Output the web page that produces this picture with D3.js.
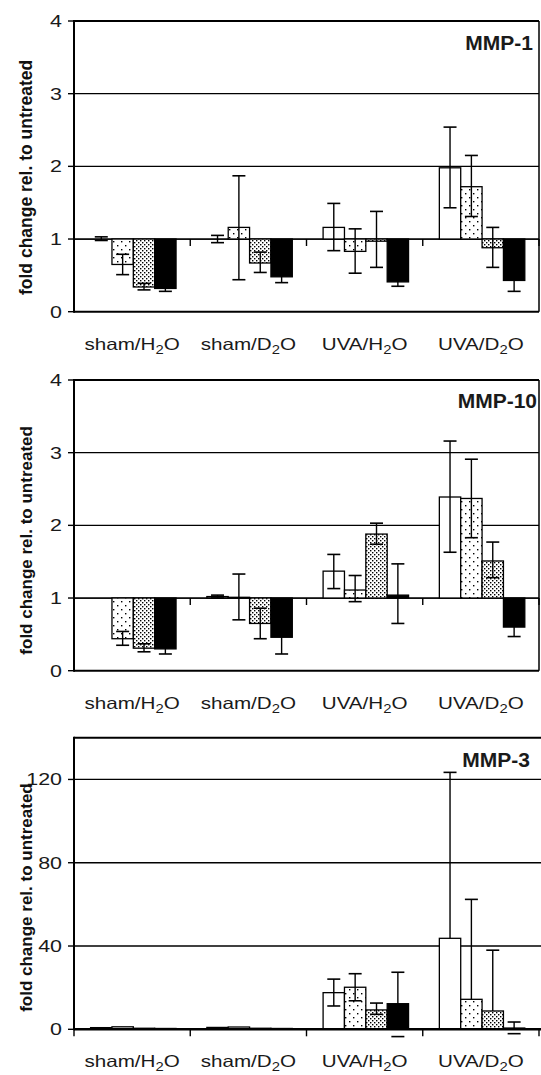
<!DOCTYPE html>
<html><head><meta charset="utf-8">
<script src="https://cdn.jsdelivr.net/npm/d3@7"></script>
<style>html,body{margin:0;padding:0;background:#fff;} svg{display:block;}</style>
</head><body>
<svg id="chart" width="541" height="1075"></svg>
<script>
// ---- data ----
const categories = ["sham/H2O", "sham/D2O", "UVA/H2O", "UVA/D2O"];
const series = ["s1", "s2", "s3", "s4"];

// values[category][series]
const mmp1Values = [[1.00, 0.65, 0.34, 0.32], [1.00, 1.16, 0.67, 0.48], [1.16, 0.83, 0.97, 0.41], [1.98, 1.72, 0.88, 0.43]];
const mmp1Lo     = [[0.98, 0.51, 0.30, 0.28], [0.95, 0.44, 0.54, 0.40], [0.84, 0.53, 0.61, 0.35], [1.43, 1.31, 0.61, 0.28]];
const mmp1Hi     = [[1.03, 0.79, 0.39, 0.36], [1.05, 1.87, 0.82, 0.56], [1.49, 1.14, 1.38, 0.47], [2.54, 2.15, 1.16, 0.58]];

const mmp10Values = [[1.00, 0.44, 0.31, 0.30], [1.02, 1.01, 0.65, 0.46], [1.37, 1.11, 1.88, 1.04], [2.39, 2.37, 1.51, 0.60]];
const mmp10Lo     = [[1.00, 0.35, 0.26, 0.23], [1.00, 0.70, 0.44, 0.23], [1.13, 0.95, 1.74, 0.65], [1.63, 1.83, 1.28, 0.47]];
const mmp10Hi     = [[1.00, 0.54, 0.37, 0.37], [1.04, 1.33, 0.86, 0.69], [1.60, 1.31, 2.03, 1.47], [3.16, 2.91, 1.77, 0.73]];

const mmp3Values = [[0.8, 1.2, 0.5, 0.4], [0.9, 1.1, 0.5, 0.4], [17.6, 20.2, 9.3, 12.3], [43.7, 14.4, 8.8, 0.6]];
const mmp3Lo     = [[0.8, 1.2, 0.5, 0.4], [0.9, 1.1, 0.5, 0.4], [11.2, 13.7, 7.2, -3.5], [43.7, 14.4, 8.8, -2.1]];
const mmp3Hi     = [[0.8, 1.2, 0.5, 0.4], [0.9, 1.1, 0.5, 0.4], [24.1, 26.7, 12.6, 27.4], [123.4, 62.4, 38.0, 3.5]];

const mmp1Ticks = [0, 1, 2, 3, 4];
const mmp10Ticks = [0, 1, 2, 3, 4];
const mmp3Ticks = [0, 40, 80, 120];

const yTitle = "fold change rel. to untreated";

// ---- layout ----
const FONT = "'Liberation Sans', Arial, sans-serif";
const plotLeft = 74;
const panels = [
  {label: "MMP-1", values: mmp1Values, lo: mmp1Lo, hi: mmp1Hi, ticks: mmp1Ticks, domain: [0, 4], base: 1,
   top: 21, bottom: 311.7, right: 539, rightBorder: true, labelX: 533, labelY: 50, titleShift: 11, titleSize: 17.5},
  {label: "MMP-10", values: mmp10Values, lo: mmp10Lo, hi: mmp10Hi, ticks: mmp10Ticks, domain: [0, 4], base: 1,
   top: 380, bottom: 670.7, right: 539, rightBorder: true, labelX: 537, labelY: 408, titleShift: 15, titleSize: 17},
  {label: "MMP-3", values: mmp3Values, lo: mmp3Lo, hi: mmp3Hi, ticks: mmp3Ticks, domain: [0, 140], base: 0,
   top: 737.8, bottom: 1029.3, right: 541, rightBorder: false, labelX: 530, labelY: 767, titleShift: 14, titleSize: 17}
];

const svg = d3.select("#chart");
const defs = svg.append("defs");

// patterns
const pSparse = defs.append("pattern").attr("id", "sparse").attr("patternUnits", "userSpaceOnUse")
  .attr("width", 8).attr("height", 8);
pSparse.append("rect").attr("width", 8).attr("height", 8).attr("fill", "#fff");
pSparse.append("rect").attr("x", 1).attr("y", 1).attr("width", 1.4).attr("height", 1.4).attr("fill", "#000");
pSparse.append("rect").attr("x", 5).attr("y", 5).attr("width", 1.4).attr("height", 1.4).attr("fill", "#000");

const pDense = defs.append("pattern").attr("id", "dense").attr("patternUnits", "userSpaceOnUse")
  .attr("width", 4).attr("height", 4);
pDense.append("rect").attr("width", 4).attr("height", 4).attr("fill", "#fff");
pDense.append("rect").attr("x", 0).attr("y", 0).attr("width", 1.4).attr("height", 1.4).attr("fill", "#000");
pDense.append("rect").attr("x", 2).attr("y", 2).attr("width", 1.4).attr("height", 1.4).attr("fill", "#000");

const fills = {s1: "#fff", s2: "url(#sparse)", s3: "url(#dense)", s4: "#000"};

function addLabel(sel, text, size) {
  // renders "2" as subscript
  const parts = text.split(/(2)/);
  let n = 0;
  parts.forEach(p => {
    if (p === "2") {
      sel.append("tspan").attr("font-size", size * 0.72).attr("dy", 4).text("2");
      n++;
    } else if (p.length) {
      const t = sel.append("tspan").text(p);
      if (n > 0) t.attr("dy", -4);
      n++;
    }
  });
}

panels.forEach(P => {
  const g = svg.append("g");
  const x = d3.scaleBand().domain(categories).range([plotLeft, 539]).padding(0);
  const xs = d3.scaleBand().domain(series).range([16.6, x.bandwidth() - 14.2]).padding(0);
  const y = d3.scaleLinear().domain(P.domain).range([P.bottom, P.top]);

  // gridlines
  g.selectAll("line.grid").data(P.ticks.filter(t => t > 0)).join("line")
    .attr("x1", plotLeft).attr("x2", P.right)
    .attr("y1", d => y(d)).attr("y2", d => y(d))
    .attr("stroke", "#000").attr("stroke-width", 1.3);

  // top frame
  g.append("line").attr("x1", plotLeft).attr("x2", P.right).attr("y1", y(P.domain[1])).attr("y2", y(P.domain[1]))
    .attr("stroke", "#000").attr("stroke-width", 2);

  // category axis line at base
  g.append("line").attr("x1", plotLeft).attr("x2", P.right).attr("y1", y(P.base)).attr("y2", y(P.base))
    .attr("stroke", "#000").attr("stroke-width", 1.3);

  // bars
  const cells = [];
  categories.forEach((c, ci) => series.forEach((s, si) => {
    cells.push({c, s, v: P.values[ci][si], lo: P.lo[ci][si], hi: P.hi[ci][si]});
  }));
  g.selectAll("rect.bar").data(cells).join("rect")
    .attr("x", d => x(d.c) + xs(d.s))
    .attr("width", xs.bandwidth())
    .attr("y", d => Math.min(y(d.v), y(P.base)))
    .attr("height", d => Math.abs(y(d.v) - y(P.base)))
    .attr("fill", d => fills[d.s])
    .attr("stroke", "#000").attr("stroke-width", 1.3);

  // error bars
  const eb = g.selectAll("g.err").data(cells.filter(d => d.lo !== d.hi)).join("g");
  eb.append("line")
    .attr("x1", d => x(d.c) + xs(d.s) + xs.bandwidth() / 2)
    .attr("x2", d => x(d.c) + xs(d.s) + xs.bandwidth() / 2)
    .attr("y1", d => y(Math.max(d.lo, P.domain[0]))).attr("y2", d => y(d.hi))
    .attr("stroke", "#000").attr("stroke-width", 1.4);
  eb.each(function(d) {
    const cx = x(d.c) + xs(d.s) + xs.bandwidth() / 2;
    [d.lo, d.hi].forEach(e => {
      if (e === d.v) return;
      d3.select(this).append("line").attr("x1", cx - 6.5).attr("x2", cx + 6.5)
        .attr("y1", y(e)).attr("y2", y(e)).attr("stroke", "#000").attr("stroke-width", 1.6);
    });
  });

  // category ticks at base
  const bounds = categories.map(c => x(c)).concat([x.range()[1]]);
  g.selectAll("line.ctick").data(bounds).join("line")
    .attr("x1", d => d).attr("x2", d => d)
    .attr("y1", y(P.base)).attr("y2", y(P.base) + 7)
    .attr("stroke", "#000").attr("stroke-width", 1.4);

  // bottom line at 0
  g.append("line").attr("x1", plotLeft).attr("x2", P.right).attr("y1", y(0)).attr("y2", y(0))
    .attr("stroke", "#000").attr("stroke-width", P.base === 0 ? 2.6 : 2);

  // left axis
  g.append("line").attr("x1", plotLeft).attr("x2", plotLeft).attr("y1", y(P.domain[1]) - 1).attr("y2", y(0) + 1)
    .attr("stroke", "#000").attr("stroke-width", 2);
  g.selectAll("line.ytick").data(P.ticks).join("line")
    .attr("x1", plotLeft - 6).attr("x2", plotLeft)
    .attr("y1", d => y(d)).attr("y2", d => y(d))
    .attr("stroke", "#000").attr("stroke-width", 1.4);

  // right border
  if (P.rightBorder) {
    g.append("line").attr("x1", P.right).attr("x2", P.right).attr("y1", y(P.domain[1])).attr("y2", y(0))
      .attr("stroke", "#000").attr("stroke-width", 1.5);
  }

  // tick labels
  P.ticks.forEach(t => {
    g.append("g").attr("transform", `translate(62,${y(t)}) scale(1.3,1)`)
      .append("text").attr("text-anchor", "end").attr("dy", "0.36em")
      .attr("font-family", FONT).attr("font-size", 16.5).attr("fill", "#1a1a1a").text(t);
  });

  // category labels
  categories.forEach(c => {
    const t = g.append("g").attr("transform", `translate(${x(c) + x.bandwidth() / 2},${y(0) + 38}) scale(1.25,1)`)
      .append("text").attr("text-anchor", "middle")
      .attr("font-family", FONT).attr("font-size", 16.5).attr("fill", "#1a1a1a");
    addLabel(t, c, 16.5);
  });

  // panel label
  g.append("text").attr("x", P.labelX).attr("y", P.labelY).attr("text-anchor", "end")
    .attr("font-family", FONT).attr("font-weight", "bold").attr("font-size", 21).attr("fill", "#1a1a1a")
    .text(P.label);

  // y title
  g.append("text")
    .attr("transform", `translate(31.5,${(y(P.domain[1]) + y(0)) / 2 + P.titleShift}) rotate(-90)`)
    .attr("text-anchor", "middle")
    .attr("font-family", FONT).attr("font-weight", "bold").attr("font-size", P.titleSize).attr("fill", "#111")
    .text(yTitle);
});
</script>
</body></html>
